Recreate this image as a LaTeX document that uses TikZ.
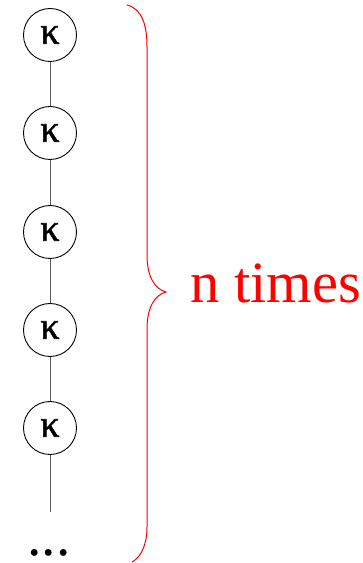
\documentclass[tikz,border=0pt]{standalone}
\usepackage{fontspec}
\setmainfont{Liberation Serif}
\newfontfamily\kappafont{Liberation Serif}[FakeBold=1.5]
\begin{document}
\begin{tikzpicture}[x=1pt,y=1pt,
  knode/.style={circle,draw=black,line width=0.9pt,minimum size=53pt,inner sep=0pt,font=\kappafont\fontsize{38}{38}\selectfont},
  link/.style={draw=black!65,line width=1pt},
  bracestyle/.style={draw=red,line width=1pt}]
\useasboundingbox (0,0) rectangle (363,563);
% chain of kappa nodes
\node[knode] (k1) at (50,528) {κ};
\node[knode] (k2) at (50,430) {κ};
\node[knode] (k3) at (50,331) {κ};
\node[knode] (k4) at (50,233) {κ};
\node[knode] (k5) at (50,135) {κ};
\coordinate (tail) at (50,51);
\node[anchor=base,font=\fontsize{57.6}{58}\selectfont,inner sep=0pt] (dots) at (49,8) {...};
\path[link] (k1) -- (k2);
\path[link] (k2) -- (k3);
\path[link] (k3) -- (k4);
\path[link] (k4) -- (k5);
\path[link] (k5) -- (tail);
% curly brace
\path[bracestyle] (127,558) .. controls (143,554) and (147,536) .. (147,516)
  -- (147,308) .. controls (147,286) and (155,274) .. (166,271)
  .. controls (155,268) and (147,256) .. (147,234)
  -- (147,36) .. controls (147,18) and (141,6) .. (132,1);
\node[anchor=base west,inner sep=0pt,text=red,font=\fontsize{58.5}{59}\selectfont] (label) at (190,260) {n times};
\end{tikzpicture}
\end{document}
